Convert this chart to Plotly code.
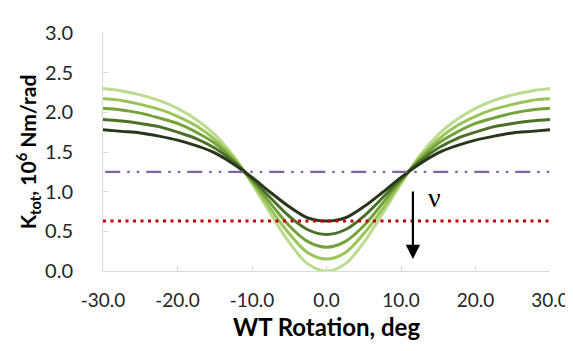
import plotly.graph_objects as go

# WT rotation angle, deg
rotation = [-30, -27.5, -25, -22.5, -20, -17.5, -15, -12.5, -10, -7.5, -5, -2.5, 0,
            2.5, 5, 7.5, 10, 12.5, 15, 17.5, 20, 22.5, 25, 27.5, 30]

# K_tot, 10^6 Nm/rad (lightest -> darkest)
k_1 = [2.30, 2.27, 2.22, 2.15, 2.05, 1.91, 1.72, 1.45, 1.10, 0.72, 0.36, 0.09, 0.00,
       0.09, 0.36, 0.72, 1.10, 1.45, 1.72, 1.91, 2.05, 2.15, 2.22, 2.27, 2.30]
k_2 = [2.17, 2.15, 2.10, 2.04, 1.95, 1.83, 1.66, 1.43, 1.12, 0.78, 0.47, 0.23, 0.15,
       0.23, 0.47, 0.78, 1.12, 1.43, 1.66, 1.83, 1.95, 2.04, 2.10, 2.15, 2.17]
k_3 = [2.05, 2.03, 1.99, 1.93, 1.86, 1.75, 1.61, 1.40, 1.14, 0.85, 0.57, 0.37, 0.30,
       0.37, 0.57, 0.85, 1.14, 1.40, 1.61, 1.75, 1.86, 1.93, 1.99, 2.03, 2.05]
k_4 = [1.91, 1.89, 1.86, 1.82, 1.75, 1.67, 1.55, 1.38, 1.16, 0.92, 0.69, 0.52, 0.46,
       0.52, 0.69, 0.92, 1.16, 1.38, 1.55, 1.67, 1.75, 1.82, 1.86, 1.89, 1.91]
k_5 = [1.78, 1.76, 1.74, 1.70, 1.65, 1.58, 1.49, 1.35, 1.18, 0.99, 0.81, 0.67, 0.63,
       0.67, 0.81, 0.99, 1.18, 1.35, 1.49, 1.58, 1.65, 1.70, 1.74, 1.76, 1.78]
series = [k_1, k_2, k_3, k_4, k_5]
colors = ["#bcdb8f", "#99c456", "#74a23a", "#4b7129", "#28361b"]

# reference levels
purple_x = [-29.7, 30]
purple_y = [1.25, 1.25]
red_x = [-30, 30]
red_y = [0.63, 0.63]

# arrow (nu direction)
arrow_x = 11.6
arrow_y_start = 1.02
arrow_y_end = 0.15
nu_x = 14.5
nu_y = 0.93

x_ticks = [-30, -20, -10, 0, 10, 20, 30]
x_tick_labels = ["-30.0", "-20.0", "-10.0", "0.0", "10.0", "20.0", "30.0"]
y_ticks = [0, 0.5, 1.0, 1.5, 2.0, 2.5, 3.0]
y_tick_labels = ["0.0", "0.5", "1.0", "1.5", "2.0", "2.5", "3.0"]

fig = go.Figure()
for ys, c in zip(series, colors):
    fig.add_trace(go.Scatter(x=rotation, y=ys, mode="lines",
                             line=dict(color=c, width=3, shape="spline", smoothing=1.0),
                             hoverinfo="skip"))

fig.add_trace(go.Scatter(x=purple_x, y=purple_y, mode="lines",
                         line=dict(color="#8064a2", width=2.2, dash="15px,7px,2.5px,7px,2.5px,7px")))
fig.add_trace(go.Scatter(x=red_x, y=red_y, mode="lines",
                         line=dict(color="#c00000", width=3, dash="3px,4.5px")))

fig.add_annotation(x=arrow_x, y=arrow_y_end, ax=arrow_x, ay=arrow_y_start,
                   xref="x", yref="y", axref="x", ayref="y",
                   showarrow=True, arrowhead=2, arrowsize=1.3, arrowwidth=2.2,
                   arrowcolor="black", text="")
fig.add_annotation(x=nu_x, y=nu_y, xref="x", yref="y", text="ν", showarrow=False,
                   font=dict(family="Liberation Serif", size=28, color="black"))

axis_font = dict(family="Lato", size=19, color="#262626")
y_axis_font = dict(family="Lato", size=20, color="#262626")
fig.update_layout(
    width=573, height=351,
    margin=dict(l=95, r=23, t=16, b=88),
    paper_bgcolor="white", plot_bgcolor="white",
    showlegend=False,
    xaxis=dict(range=[-30, 30], tickvals=x_ticks, ticktext=x_tick_labels,
               showgrid=False, zeroline=False, showline=True, linecolor="#d9d9d9",
               linewidth=1, ticks="inside", ticklen=5, tickcolor="#d9d9d9",
               tickfont=axis_font, ticklabelstandoff=12,
               title=dict(text="<b>WT Rotation, deg</b>", standoff=9,
                          font=dict(family="Lato", size=24, color="black"))),
    yaxis=dict(range=[0, 3], tickvals=y_ticks, ticktext=y_tick_labels,
               showgrid=False, zeroline=False, showline=True, linecolor="#d9d9d9",
               linewidth=1, ticks="inside", ticklen=5, tickcolor="#d9d9d9",
               tickfont=y_axis_font, ticklabelstandoff=25,
               title=dict(text="<b>K<sub>tot</sub>, 10<sup>6</sup> Nm/rad</b>", standoff=2,
                          font=dict(family="Lato", size=21, color="black"))),
)

fig.write_html("out.html")
